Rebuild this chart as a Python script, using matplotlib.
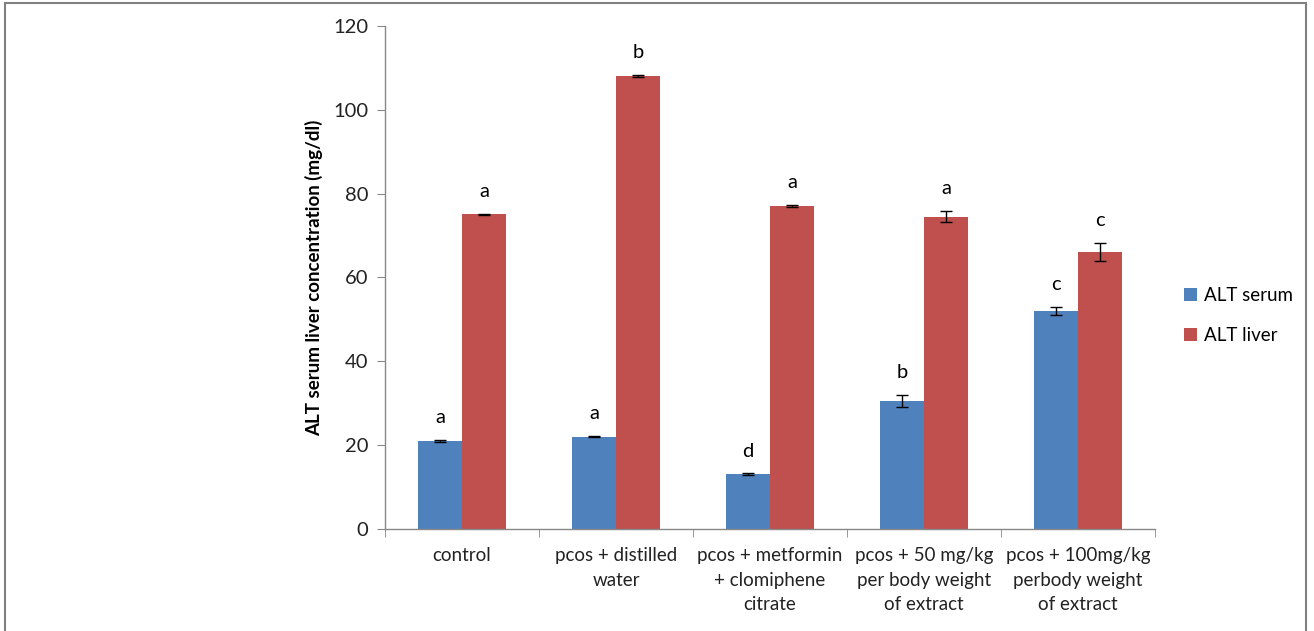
import matplotlib.pyplot as plt
import numpy as np

# datos
grupos = ['control', 'pcos + distilled\nwater', 'pcos + metformin\n+ clomiphene\ncitrate',
          'pcos + 50 mg/kg\nper body weight\nof extract', 'pcos + 100mg/kg\nperbody weight\nof extract']
alt_serum = [21.0, 22.0, 13.0, 30.5, 52.0]
alt_liver = [75.0, 108.0, 77.0, 74.5, 66.0]
err_serum = [0.2, 0.2, 0.2, 1.5, 0.9]
err_liver = [0.2, 0.2, 0.2, 1.4, 2.2]
letras_serum = ['a', 'a', 'd', 'b', 'c']
letras_liver = ['a', 'b', 'a', 'a', 'c']

plt.rcParams['font.family'] = ['Lato', 'DejaVu Sans']

fig = plt.figure(figsize=(13.14, 6.31), dpi=100)
ax = fig.add_axes([0.293, 0.162, 0.586, 0.797])

x = np.arange(len(grupos))
ancho = 0.286
azul = '#4f81bd'
rojo = '#c0504d'

b1 = ax.bar(x - ancho / 2, alt_serum, ancho, color=azul, label='ALT serum',
            yerr=err_serum, error_kw=dict(ecolor='black', elinewidth=1, capsize=4, capthick=1))
b2 = ax.bar(x + ancho / 2, alt_liver, ancho, color=rojo, label='ALT liver',
            yerr=err_liver, error_kw=dict(ecolor='black', elinewidth=1, capsize=4, capthick=1))

# letras de significancia
for i in range(len(grupos)):
    ax.annotate(letras_serum[i], (x[i] - ancho / 2, alt_serum[i] + err_serum[i]),
                xytext=(0, 10), textcoords='offset points', ha='center', va='bottom', fontsize=14.5)
    ax.annotate(letras_liver[i], (x[i] + ancho / 2, alt_liver[i] + err_liver[i]),
                xytext=(0, 10), textcoords='offset points', ha='center', va='bottom', fontsize=14.5)

ax.set_xlim(-0.5, len(grupos) - 0.5)
ax.set_ylim(0, 120)
ax.set_yticks(np.arange(0, 121, 20))
ax.set_xticks(x)
ax.set_xticklabels(grupos, fontsize=13.5, color='#222222', linespacing=1.55)
ax.tick_params(axis='x', length=0, pad=13)
ax.set_xticks(np.arange(-0.5, len(grupos), 1), minor=True)
ax.tick_params(axis='x', which='minor', length=6, color='#888888', direction='out')
ax.tick_params(axis='y', length=6, color='#888888', labelsize=14.5, labelcolor='#222222', pad=6)

for s in ['top', 'right']:
    ax.spines[s].set_visible(False)
for s in ['left', 'bottom']:
    ax.spines[s].set_color('#888888')
    ax.spines[s].set_linewidth(1)

ax.set_ylabel('ALT serum liver concentration (mg/dl)', fontsize=13.5, fontweight='bold', labelpad=7)

fig.legend(handles=[b1, b2], labels=['ALT serum', 'ALT liver'], loc='center left',
           bbox_to_anchor=(0.888, 0.50), frameon=False, fontsize=13.5,
           handlelength=0.7, handleheight=0.7, handletextpad=0.4, labelspacing=1.2)

# marco gris alrededor de la figura
fig.patches.append(plt.Rectangle((0.004, -0.05), 0.99, 1.045, transform=fig.transFigure,
                                 fill=False, edgecolor='#808080', linewidth=1.5))

plt.savefig('out.png', dpi=100)
